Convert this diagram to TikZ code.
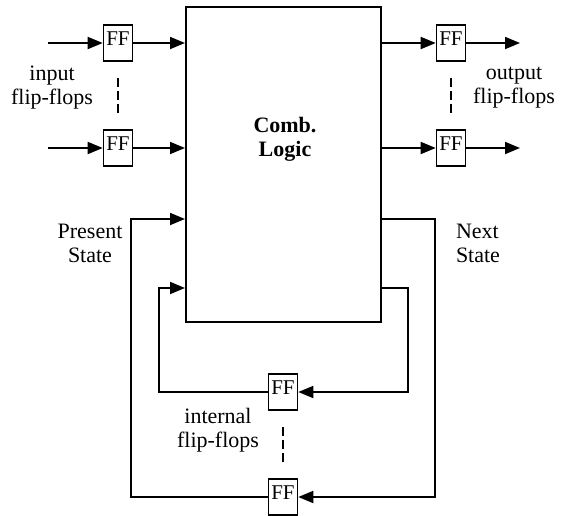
\documentclass[tikz,border=0pt]{standalone}
\usepackage{fontspec}
\setmainfont{Liberation Serif}
\usetikzlibrary{arrows.meta,calc}

\begin{document}
\begin{tikzpicture}[x=1pt,y=-1pt,
  ff/.style={draw,line width=1.6pt,minimum width=29pt,minimum height=36pt,inner sep=0pt,text depth=8pt,font=\fontsize{21}{23}\selectfont},
  logic/.style={draw,line width=2pt,minimum width=195pt,minimum height=315pt,inner sep=0pt},
  lbl/.style={align=center,inner sep=0pt,font=\fontsize{22}{24}\selectfont},
  link/.style={-{Triangle[length=15pt,width=12pt]},line width=1.8pt},
  dots/.style={line width=1.6pt,dash pattern=on 9pt off 4pt,shorten <=16pt,shorten >=16pt}]
\useasboundingbox (0,0) rectangle (563,515);

\node[logic] (comb) at (283.5,164.5) {};
\node[lbl,font=\fontsize{22}{24}\selectfont\bfseries] (combtxt) at (285,139) {Comb.\\Logic};

\node[ff] (inA) at (118,43) {FF};
\node[ff] (inB) at (118,148) {FF};
\node[ff] (outA) at (451,43) {FF};
\node[ff] (outB) at (451,148) {FF};
\node[ff] (intA) at (283,392) {FF};
\node[ff] (intB) at (283,497) {FF};

\coordinate (srcA) at (48,43);
\coordinate (srcB) at (48,148);
\coordinate (dstA) at (520,43);
\coordinate (dstB) at (520,148);
\coordinate (psA) at (159,288);
\coordinate (psB) at (131,219);
\coordinate (nsA) at (408,288);
\coordinate (nsB) at (435,219);

\node[lbl] (intxt) at (52,88) {input\\flip-flops};
\node[lbl] (outtxt) at (514,88) {output\\flip-flops};
\node[lbl] (pstxt) at (90,243) {Present\\State};
\node[lbl,align=left] (nstxt) at (478,243) {Next\\State};
\node[lbl] (inttxt) at (218,430) {internal\\flip-flops};

\draw[link] (srcA) -- (inA);
\draw[link] (srcB) -- (inB);
\draw[link] (inA) -- (inA -| comb.west);
\draw[link] (inB) -- (inB -| comb.west);
\draw[link] (outA -| comb.east) -- (outA);
\draw[link] (outB -| comb.east) -- (outB);
\draw[link] (outA) -- (dstA);
\draw[link] (outB) -- (dstB);

\draw[link] (nsA -| comb.east) -- (nsA) |- (intA);
\draw[link] (nsB -| comb.east) -- (nsB) |- (intB);
\draw[link] (intA) -| (psA) -- (psA -| comb.west);
\draw[link] (intB) -| (psB) -- (psB -| comb.west);

\draw[dots] (inA) -- (inB);
\draw[dots] (outA) -- (outB);
\draw[dots] (intA) -- (intB);
\end{tikzpicture}
\end{document}
